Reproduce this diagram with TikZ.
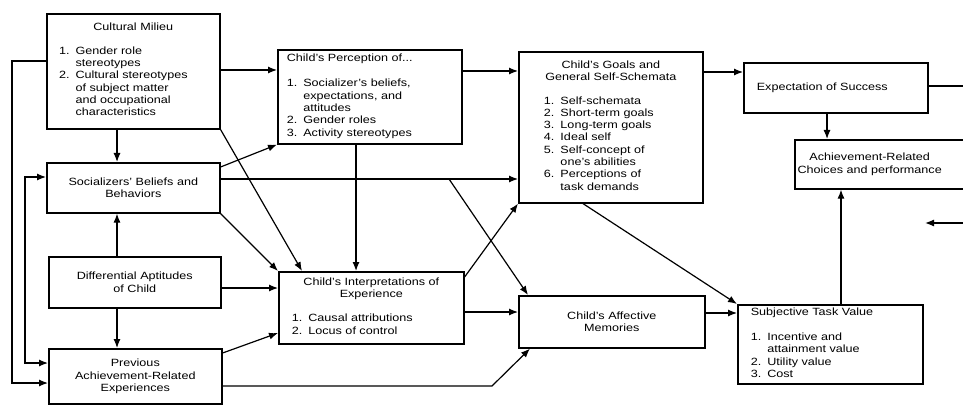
\documentclass[tikz,border=0pt]{standalone}
\usepackage{fontspec}
\setmainfont{Liberation Sans}[FakeStretch=1.2]
\usetikzlibrary{arrows.meta}
\newcommand{\numlist}[1]{\begin{tabular}[t]{@{}l@{\hspace{6pt}}l@{}}#1\end{tabular}}

\begin{document}
\begin{tikzpicture}[x=1pt,y=-1pt,
    font=\fontsize{10.5}{12.3}\selectfont,
    >={Latex[length=9pt,width=7pt]},
    box/.style={draw,line width=1.6pt,anchor=north west,inner sep=0pt},
    link/.style={line width=1.2pt,->}]
    \useasboundingbox (0,0) rectangle (963,406);
    \clip (0,0) rectangle (963,406);

    \node[box,minimum width=173,minimum height=115,align=center] (milieu) at (46,13)
        {Cultural Milieu\\[11pt]\numlist{1. & Gender role\\ & stereotypes\\ 2. & Cultural stereotypes\\ & of subject matter\\ & and occupational\\ & characteristics}\hspace*{20pt}};
    \node[box,minimum width=173,minimum height=50,align=center] (beliefs) at (46,162)
        {Socializers' Beliefs and\\Behaviors};
    \node[box,minimum width=172,minimum height=51,align=center] (aptitudes) at (48,256)
        {Differential Aptitudes\\of Child};
    \node[box,minimum width=173,minimum height=55,align=center] (previous) at (48,348)
        {Previous\\Achievement-Related\\Experiences};

    \node[box,minimum width=184,minimum height=94,text width=166,inner xsep=9pt,align=left] (percep) at (277,49)
        {Child's Perception of...\\[13pt]\numlist{1. & Socializer's beliefs,\\ & expectations, and\\ & attitudes\\ 2. & Gender roles\\ 3. & Activity stereotypes}};
    \node[box,minimum width=185,minimum height=72,align=center] (interp) at (278,271)
        {Child's Interpretations of\\Experience\\[12pt]\numlist{1. & Causal attributions\\ 2. & Locus of control}\hspace*{38pt}};

    \node[box,minimum width=184,minimum height=151,align=center] (goals) at (518,51)
        {Child's Goals and\\General Self-Schemata\\[11pt]\numlist{1. & Self-schemata\\ 2. & Short-term goals\\ 3. & Long-term goals\\ 4. & Ideal self\\ 5. & Self-concept of\\ & one's abilities\\ 6. & Perceptions of\\ & task demands}\hspace*{24pt}};
    \node[box,minimum width=186,minimum height=52,align=center] (affect) at (518,295)
        {Child's Affective\\Memories};

    \node[box,minimum width=184,minimum height=50,text width=158,inner xsep=13pt,align=left] (success) at (743,62)
        {Expectation of Success};
    \node[box,minimum width=190,minimum height=49,
        label={[anchor=west,align=center]west:Achievement-Related\\Choices and performance}] (achieve) at (794,139) {};
    \node[box,minimum width=185,minimum height=79,text width=159,inner xsep=13pt,align=left] (taskval) at (737,304)
        {Subjective Task Value\\[13pt]\numlist{1. & Incentive and\\ & attainment value\\ 2. & Utility value\\ 3. & Cost}};

    \coordinate (split) at (449,179);
    \coordinate (exitR) at (963,86);
    \coordinate (entryR) at (963,223);
    \coordinate (tipR) at (925,223);

    \draw[link] (milieu.west |- 0,61) -- (12,61) -- (12,383) -- (previous.west |- 0,383);
    \draw[link,<->] (beliefs.west |- 0,177) -- (25,177) -- (25,363) -- (previous.west |- 0,363);
    \draw[link] (milieu.south -| 117,0) -- (beliefs.north -| 117,0);
    \draw[link] (aptitudes.north -| 117,0) -- (beliefs.south -| 117,0);
    \draw[link] (aptitudes.south -| 117,0) -- (previous.north -| 117,0);

    \draw[link] (milieu.east |- 0,70) -- (percep.west |- 0,70);
    \draw[link] (milieu.south east) -- (interp.north -| 302,0);
    \draw[link] (beliefs.east |- 0,167) -- (percep.south west);
    \draw[link] (beliefs.east |- 0,179) -- (goals.west |- 0,179);
    \draw[link] (split) -- (affect.north -| 528,0);
    \draw[link] (beliefs.south east) -- (interp.north west);
    \draw[link] (aptitudes.east |- 0,288) -- (interp.west |- 0,288);
    \draw[link] (previous.east |- 0,353) -- (interp.west |- 0,333);
    \draw[link] (previous.east |- 0,386) -- (492,386) -- (affect.south -| 530,0);

    \draw[link] (percep.south -| 356,0) -- (interp.north -| 356,0);
    \draw[link] (percep.east |- 0,71) -- (goals.west |- 0,71);
    \draw[link] (interp.east |- 0,277) -- (goals.south west);
    \draw[link] (interp.east |- 0,312) -- (affect.west |- 0,312);

    \draw[link] (goals.east |- 0,72) -- (success.west |- 0,72);
    \draw[link] (goals.south -| 583,0) -- (taskval.north west);
    \draw[link] (affect.east |- 0,313) -- (taskval.west |- 0,313);
    \draw[link] (success.south -| 827,0) -- (achieve.north -| 827,0);
    \draw[link] (taskval.north -| 841,0) -- (achieve.south -| 841,0);
    \draw[line width=1.2pt] (success.east |- exitR) -- (exitR);
    \draw[link] (entryR) -- (tipR);
\end{tikzpicture}
\end{document}
